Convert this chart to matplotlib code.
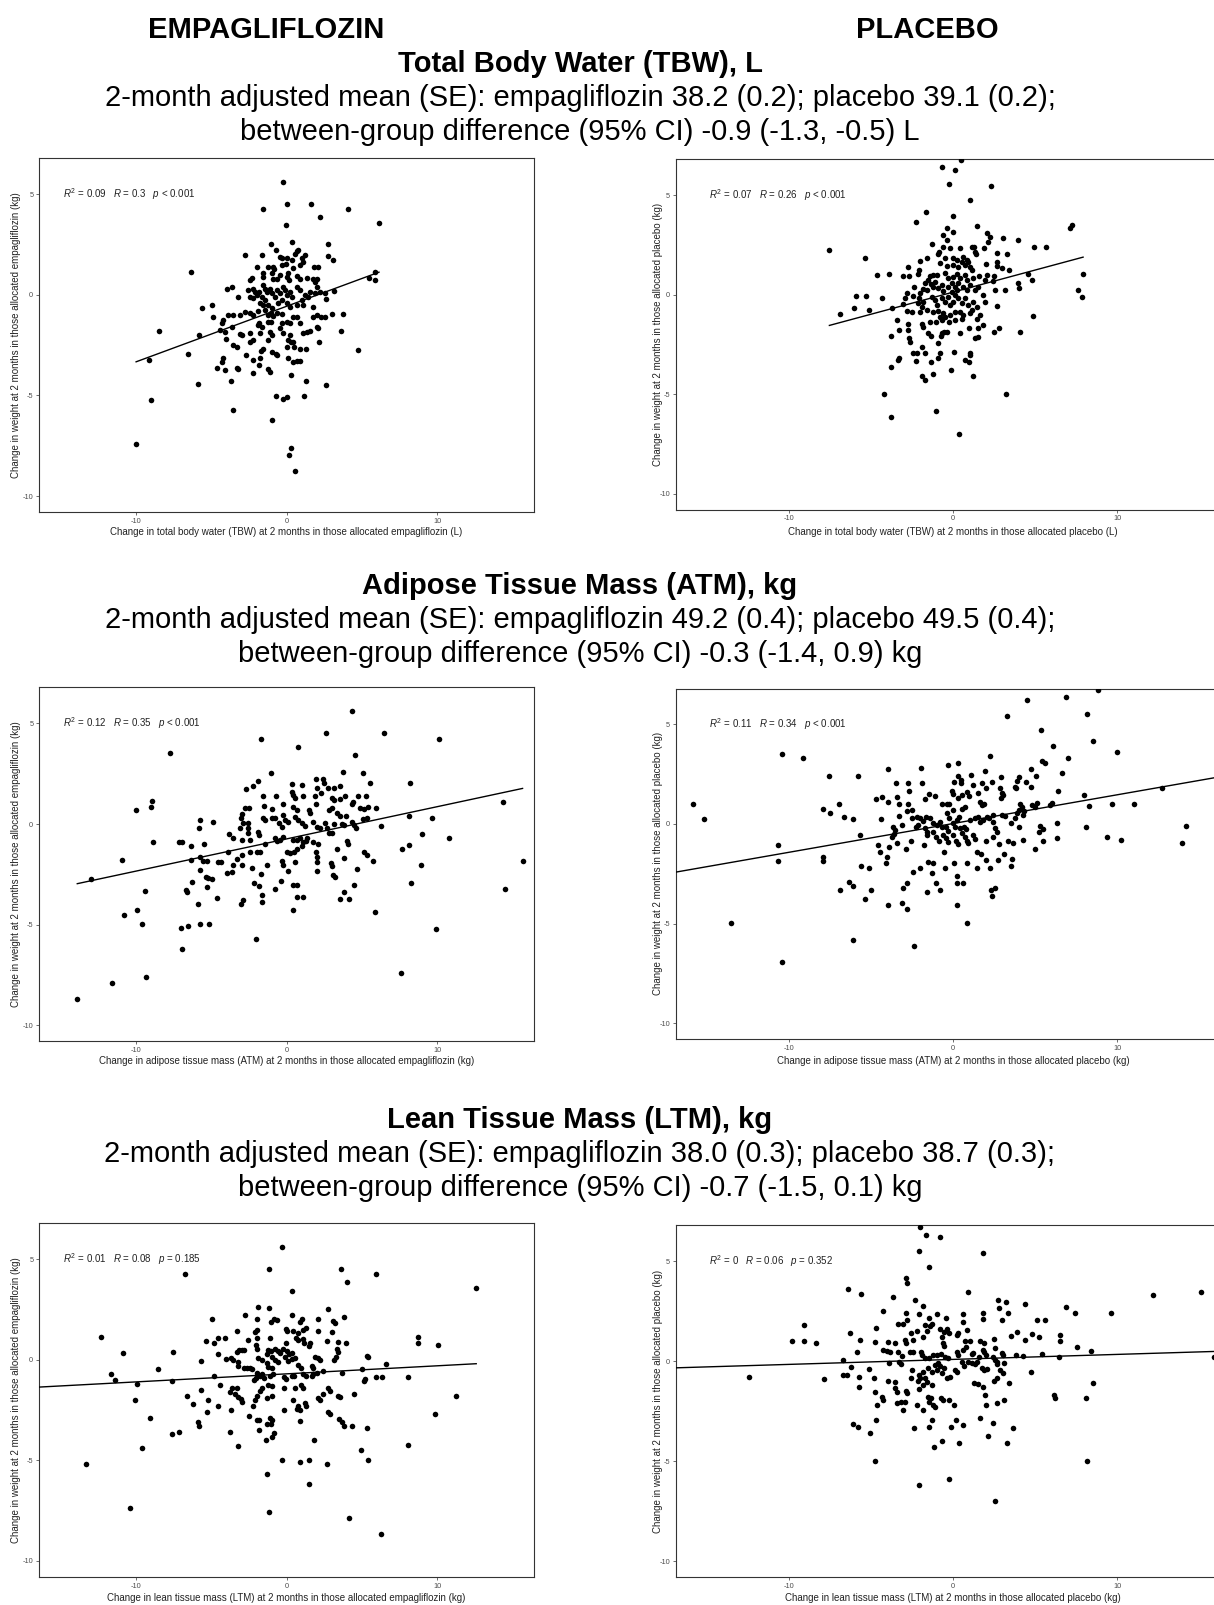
import numpy as np
import matplotlib.pyplot as plt

plt.rcParams['font.family'] = ['Liberation Sans', 'DejaVu Sans']
plt.rcParams['axes.unicode_minus'] = False
plt.rcParams['mathtext.fontset'] = 'custom'
plt.rcParams['mathtext.rm'] = 'Liberation Sans'
plt.rcParams['mathtext.it'] = 'Liberation Sans:italic'

W, H = 1214, 1605

# change in body compartment (x) vs change in weight (y)
tbw_empa = [
    (-0.23, 5.63), (0, 4.53), (-1.55, 4.25), (1.59, 4.53), (4.05, 4.25), (2.23, 3.85), (-0.05, 3.45),
    (6.14, 3.55), (-6.36, 1.13), (-8.48, -1.82), (-9.16, -3.22), (-10.0, -7.43), (-9.0, -5.22),
    (-6.52, -2.92), (-5.86, -4.42), (-5.82, -2.02), (-3.55, -5.72), (5.45, 0.83), (5.86, 1.12),
    (5.9, 0.72), (4.77, -2.72), (2.64, -4.5), (-0.95, -6.22), (-0.68, -5.03), (-0.27, -5.17),
    (0, -5.08), (1.14, -5.03), (0.3, -7.63), (0.18, -7.97), (0.57, -8.78),
    (-1.04, 2.52), (0.33, 2.63), (2.72, 2.52), (-0.71, 2.22), (-2.77, 2.0), (-1.66, 2.0), (0.66, 2.17),
    (0.77, 2.22), (0.55, 2.05), (-0.44, 1.89), (-0.33, 1.81), (0.04, 1.81), (0.33, 1.72), (1.22, 2.0),
    (1.0, 1.81), (2.77, 1.92), (3.06, 1.72), (-1.95, 1.39), (-1.22, 1.39), (-0.93, 1.39), (-0.84, 1.28),
    (-0.33, 1.47), (-0.04, 1.51), (0.4, 1.31), (0.89, 1.47), (1.06, 1.61), (1.84, 1.39), (2.1, 1.39),
    (-2.44, 0.76), (-2.33, 0.84), (-1.55, 1.06), (-1.6, 0.89), (-1.0, 1.06), (-0.89, 0.81), (-0.44, 0.98),
    (-0.62, 0.81), (0.11, 1.06), (0, 0.89), (0.18, 0.73), (0.66, 0.94), (0.89, 0.81), (1.33, 0.84),
    (1.77, 0.81), (1.99, 0.81), (1.88, 0.65), (1.99, 0.4), (-3.99, 0.31), (-3.61, 0.4), (-3.21, -0.1),
    (-2.59, 0.23), (-2.21, 0.31), (-2.1, 0.15), (-2.44, -0.1), (-2.21, -0.18), (-1.99, -0.02),
    (-1.82, 0.15), (-1.6, 0.51), (-1.44, 0.31), (-1.33, 0.15), (-1.11, 0.31), (-1.66, -0.1),
    (-1.44, -0.27), (-1.77, -0.43), (-1.6, -0.51), (-1.0, 0.07), (-0.78, -0.1), (-0.66, 0.23),
    (-0.44, 0.07), (-0.22, 0.4), (-0.11, 0.23), (0.04, -0.02), (0.22, 0.15), (0.33, -0.1), (-0.33, -0.27),
    (-0.55, -0.43), (-1.22, -0.51), (-1.0, -0.68), (0, -0.43), (0.22, -0.6), (0.66, 0.4), (0.89, 0.23),
    (1.22, -0.02), (1.44, -0.1), (1.55, 0.15), (1.0, -0.27), (0.66, -0.51), (1.11, -0.51), (1.88, 0.07),
    (2.21, 0.15), (2.55, 0.07), (2.61, -0.22), (3.17, 0.2), (-5.65, -0.68), (-4.98, -0.51), (-4.92, -1.11),
    (-3.88, -1.01), (-3.54, -1.01), (-4.32, -1.42), (-4.21, -1.26), (-4.43, -1.76), (-4.1, -1.84),
    (-3.65, -1.59), (-3.1, -1.01), (-2.77, -0.85), (-2.44, -0.88), (-2.21, -0.98), (-1.88, -0.81),
    (-1.44, -0.76), (-1.22, -0.98), (-1.06, -0.88), (-0.89, -1.04), (-0.62, -0.88), (-0.33, -0.93),
    (-1.82, -1.42), (-1.66, -1.59), (-1.88, -1.51), (-1.22, -1.34), (-1.04, -1.37), (-0.33, -1.42),
    (0.04, -1.37), (0.22, -1.42), (0.44, -1.09), (0.66, -1.09), (0.89, -1.42), (1.77, -1.09), (2.26, -1.09),
    (1.77, -0.6), (1.99, -1.01), (2.55, -1.09), (2.99, -0.93), (3.77, -0.93), (-3.1, -1.97), (-2.99, -2.0),
    (-2.44, -1.92), (-1.77, -1.89), (-1.11, -1.84), (-1.0, -2.0), (-0.44, -1.67), (-0.22, -1.92),
    (0.22, -2.0), (0.44, -2.34), (0.27, -2.34), (1.11, -1.92), (1.33, -1.87), (1.55, -1.81), (1.99, -1.59),
    (2.1, -1.67), (3.61, -1.81), (-4.03, -2.22), (-3.54, -2.5), (-3.32, -2.58), (-2.44, -2.34),
    (-2.21, -2.25), (-1.71, -2.78), (-1.55, -2.67), (-1.22, -2.25), (-1.0, -2.83), (-0.71, -2.92),
    (-0.62, -3.0), (0, -2.58), (0.11, -2.25), (0.51, -2.58), (0.89, -2.67), (1.28, -2.67), (2.17, -2.34),
    (-2.7, -3.0), (-4.25, -3.16), (-4.32, -3.33), (-4.61, -3.63), (-4.1, -3.74), (-3.28, -3.63),
    (-3.21, -3.71), (-2.21, -3.25), (-1.77, -3.16), (-1.82, -3.5), (-1.22, -3.69), (-1.11, -3.83),
    (-2.26, -3.88), (0.11, -3.13), (0.44, -3.36), (0.66, -3.3), (0.89, -3.3), (0.29, -3.99), (1.28, -4.29),
    (-3.68, -4.29),
]

tbw_plac = [
    (-0.65, 6.39), (0.46, 6.74), (0.14, 6.27), (-0.23, 5.57), (2.31, 5.47), (1.04, 4.77), (-1.62, 4.16),
    (-2.25, 3.66), (0, 3.96), (7.13, 3.34), (7.25, 3.51), (-7.52, 2.26), (-5.37, 1.84), (-6.88, -0.95),
    (-6.02, -0.67), (-5.9, -0.08), (-5.32, -0.08), (-5.09, -0.79), (4.93, 2.42), (5.67, 2.42), (4.81, 0.75),
    (4.86, -1.05), (7.92, 1.04), (7.59, 0.25), (7.87, -0.13), (-4.21, -4.98), (-3.75, -6.15),
    (-1.06, -5.85), (0.37, -6.97), (3.24, -4.98), (4.54, 1.05),
    (-0.39, 3.37), (0.02, 3.17), (1.44, 3.45), (2.05, 3.09), (2.25, 2.92), (-0.63, 3.0), (-0.39, 2.75),
    (-1.3, 2.53), (-0.63, 2.42), (-0.18, 2.33), (0.43, 2.33), (1.14, 2.42), (1.28, 2.42), (1.89, 2.37),
    (2.15, 2.67), (3.06, 2.83), (3.94, 2.75), (-0.83, 2.13), (-0.89, 2.03), (1.34, 2.17), (1.4, 2.03),
    (2.66, 2.08), (3.31, 2.05), (-1.6, 1.83), (-2.01, 1.7), (-0.02, 1.86), (-0.49, 1.83), (0.22, 1.75),
    (0.63, 1.92), (0.83, 1.75), (0.93, 1.63), (0.73, 1.5), (-0.79, 1.58), (-0.39, 1.46), (-0.02, 1.5),
    (0.32, 1.41), (0.53, 1.63), (1.03, 1.41), (1.14, 1.25), (2.01, 1.53), (2.66, 1.63), (2.7, 1.45),
    (2.96, 1.36), (3.43, 1.25), (-2.72, 1.41), (-2.05, 1.25), (-2.11, 1.03), (-2.68, 0.96), (-3.02, 0.96),
    (-4.65, 0.99), (-3.9, 1.03), (-1.4, 0.96), (-1.2, 0.99), (-0.99, 0.99), (-1.5, 0.74), (-1.7, 0.58),
    (-1.36, 0.53), (-1.1, 0.66), (-0.49, 1.08), (-0.28, 0.83), (-0.02, 0.91), (0.22, 1.03), (0.43, 0.83),
    (0.73, 0.99), (0.87, 0.74), (1.24, 0.83), (1.6, 0.96), (1.95, 0.74), (2.05, 0.99), (2.5, 0.94),
    (2.41, 0.69), (3.16, 0.24), (2.56, 0.24), (3.98, 0.58), (4.04, 0.32), (-2.37, 0.41), (-1.81, 0.29),
    (-1.6, 0.24), (-2.01, 0.07), (-1.2, 0.41), (-0.89, 0.32), (-0.69, 0.49), (-0.59, 0.19), (-0.28, 0.41),
    (-0.08, 0.58), (0.12, 0.41), (0.32, 0.58), (-0.08, 0.16), (0.12, -0.01), (0.26, 0.24), (0.63, 0.41),
    (0.83, 0.24), (1.03, 0.49), (1.34, 0.24), (1.54, 0.41), (1.85, -0.01), (1.95, -0.35), (-2.82, 0.07),
    (-2.92, -0.14), (-2.45, -0.04), (-4.34, -0.14), (-2.05, -0.18), (-1.81, -0.35), (-2.11, -0.43),
    (-1.91, -0.6), (-1.3, -0.09), (-1.1, -0.26), (-0.99, -0.51), (-0.69, -0.18), (-0.49, -0.35),
    (-0.28, -0.09), (-0.18, -0.51), (0.02, -0.35), (0.32, -0.18), (0.53, -0.43), (0.73, -0.18),
    (0.93, -0.51), (1.24, -0.35), (1.44, -0.6), (1.14, -0.76), (-3.73, -0.65), (-3.06, -0.48),
    (-2.82, -0.82), (-2.52, -0.88), (-2.01, -0.88), (-1.6, -0.76), (-1.2, -0.88), (-0.89, -0.82),
    (-0.59, -0.93), (-0.49, -1.1), (-0.18, -1.01), (0.12, -0.88), (0.43, -0.88), (0.63, -1.01),
    (1.03, -0.93), (1.64, -1.01), (1.44, -1.22), (2.66, -0.55), (-3.43, -1.27), (-2.72, -1.48),
    (-3.27, -1.77), (-1.91, -1.48), (-1.81, -1.6), (-1.4, -1.35), (-1.03, -1.35), (-0.79, -1.1),
    (-0.69, -1.27), (-0.24, -1.35), (0.12, -1.27), (0.53, -1.24), (0.99, -1.68), (0.43, -1.94),
    (1.54, -1.68), (1.85, -1.52), (2.5, -1.85), (2.82, -1.68), (4.08, -1.85), (-3.79, -2.05),
    (-2.72, -1.77), (-2.66, -2.19), (-2.62, -2.36), (-1.5, -1.94), (-1.36, -2.07), (-0.69, -1.94),
    (-0.55, -1.85), (-0.39, -1.85), (-0.73, -2.07), (-1.91, -2.61), (-0.89, -2.44), (1.34, -2.19),
    (1.54, -2.1), (-2.45, -2.94), (-2.21, -2.94), (-1.7, -2.94), (-0.79, -2.94), (0.08, -2.89),
    (1.03, -2.94), (-3.27, -3.19), (-3.33, -3.28), (-2.25, -3.31), (-0.89, -3.19), (-1.34, -3.36),
    (0.73, -3.28), (0.99, -3.36), (1.03, -3.02), (-3.79, -3.61), (-1.2, -3.98), (-1.91, -4.08),
    (-1.7, -4.28), (-0.14, -3.78), (1.2, -4.06),
]

atm_empa = [
    (4.37, 5.62), (2.64, 4.51), (6.48, 4.51), (-1.72, 4.23), (10.11, 4.23), (0.76, 3.85), (-7.75, 3.52),
    (4.55, 3.44), (8.23, 2.03), (-8.92, 1.12), (-9.01, 0.83), (-10.0, 0.71), (-8.85, -0.89),
    (-10.92, -1.8), (-12.99, -2.71), (-13.91, -8.71), (-11.61, -7.88), (-9.36, -7.6), (-10.8, -4.5),
    (-9.95, -4.28), (-9.43, -3.31), (-9.59, -4.99), (-7.01, -5.19), (-6.55, -5.07), (-6.94, -6.2),
    (-5.75, -4.99), (-5.17, -4.99), (-5.86, -4.0), (-7.13, -0.89), (-6.94, -0.89), (-6.37, -1.11),
    (-6.32, -1.77), (-6.67, -3.26), (-6.6, -3.39), (-6.28, -2.89), (-5.79, -0.2), (-5.75, -2.3),
    (-2.02, -5.7), (7.59, -7.39), (9.93, -5.21), (14.53, -3.22), (15.68, -1.82), (14.41, 1.09),
    (9.66, 0.3), (10.8, -0.69), (9.01, -0.5), (8.92, -2.02), (8.28, -2.93), (8.16, 0.41), (8.11, -1.02),
    (7.66, -1.22),
    (-1.06, 2.52), (3.77, 2.6), (5.1, 2.52), (-1.88, 2.14), (-2.21, 1.91), (-2.7, 1.72), (0.33, 1.99),
    (1.0, 1.94), (1.95, 2.22), (2.44, 2.22), (2.48, 2.02), (1.99, 1.81), (2.77, 1.81), (3.17, 1.81),
    (3.54, 1.91), (5.54, 2.02), (0.33, 1.61), (0.44, 1.44), (0.55, 1.28), (-1.55, 1.41), (-0.71, 1.41),
    (1.06, 1.41), (1.88, 1.41), (2.26, 1.52), (2.99, 1.28), (3.14, 1.19), (3.88, 1.41), (3.54, 1.25),
    (4.76, 1.41), (5.27, 1.41), (4.43, 1.08), (4.32, 0.98), (-2.77, 0.81), (-2.48, 0.81), (-1.51, 0.91),
    (-1.0, 0.75), (-0.22, 0.98), (0.4, 0.86), (0.66, 0.7), (1.95, 0.98), (1.51, 0.7), (2.84, 0.7),
    (2.99, 0.78), (3.32, 0.53), (3.54, 0.41), (3.94, 0.41), (4.85, 0.78), (5.12, 0.75), (5.39, 0.86),
    (5.94, 0.81), (-2.99, 0.48), (-3.06, 0.31), (-2.88, 0.03), (-2.55, 0.03), (-1.55, 0.31), (-1.44, 0.2),
    (-1.0, 0.31), (-0.77, 0.28), (-0.49, 0.03), (-0.33, -0.13), (-0.11, 0.2), (0.11, 0.12), (-0.22, 0.45),
    (0.55, 0.36), (0.78, 0.2), (1.0, 0.03), (1.22, -0.08), (1.55, 0.53), (1.77, 0.12), (1.99, -0.13),
    (2.21, -0.22), (2.55, 0.03), (2.66, -0.18), (3.14, -0.02), (3.65, -0.02), (3.81, -0.05), (4.32, 0.12),
    (4.47, -0.05), (4.61, -0.18), (5.1, 0.25), (5.32, 0.31), (6.25, -0.1), (-5.75, 0.2), (-4.91, 0.08),
    (-3.81, -0.51), (-3.59, -0.71), (-3.1, -0.18), (-2.55, -0.18), (-2.59, -0.46), (-1.82, -0.55),
    (-1.88, -0.41), (-2.99, -0.8), (-2.44, -0.8), (-1.44, -1.01), (-0.77, -0.71), (-0.62, -0.84),
    (-0.44, -0.8), (-0.22, -0.63), (0.4, -0.8), (0.66, -0.8), (0.89, -0.71), (1.11, -0.91), (1.28, -0.84),
    (1.33, -0.68), (1.77, -0.91), (2.1, -1.01), (2.84, -0.46), (2.99, -0.43), (4.03, -0.84), (4.1, -1.01),
    (3.37, -1.24), (-5.49, -1.01), (-5.75, -1.62), (-5.53, -1.84), (-5.27, -1.84), (-4.53, -1.91),
    (-4.38, -1.91), (-3.87, -1.41), (-3.32, -1.74), (-2.99, -1.54), (-2.44, -1.38), (-1.95, -1.41),
    (-1.77, -1.41), (0, -1.38), (0.22, -1.46), (0.49, -1.41), (0.71, -1.24), (1.0, -1.08), (1.95, -1.38),
    (1.99, -1.62), (2.04, -1.91), (2.92, -1.96), (2.99, -2.07), (3.81, -1.71), (5.14, -1.41),
    (5.32, -1.54), (5.72, -1.84), (-3.54, -2.04), (-2.99, -2.04), (-1.33, -2.04), (-0.33, -1.84),
    (-0.22, -2.04), (0.11, -2.34), (0.55, -1.91), (-5.36, -2.62), (-5.2, -2.7), (-4.98, -2.73),
    (-5.31, -3.15), (-3.99, -2.45), (-3.65, -2.4), (-2.33, -2.2), (-1.73, -2.5), (2.04, -2.34),
    (3.1, -2.53), (3.21, -2.62), (4.7, -2.24), (-2.15, -2.92), (-1.82, -3.08), (-0.37, -2.83),
    (0.4, -3.03), (0.66, -3.03), (4.47, -3.03), (-0.77, -3.23), (-4.64, -3.66), (-2.88, -3.78),
    (-1.66, -3.53), (-1.66, -3.89), (0.66, -3.61), (1.11, -3.64), (3.54, -3.73), (3.81, -3.36),
    (4.17, -3.73), (-3.03, -3.98), (0.44, -4.27), (5.87, -4.39),
]

atm_plac = [
    (4.52, 6.23), (6.91, 6.35), (8.85, 6.71), (3.31, 5.43), (8.18, 5.53), (5.33, 4.72), (6.09, 3.92),
    (8.51, 4.14), (9.97, 3.62), (-10.38, 3.52), (-9.15, 3.32), (-15.8, 1.0), (-15.18, 0.25),
    (-10.66, -1.08), (-10.66, -1.84), (-13.49, -4.95), (-10.38, -6.94), (-6.07, -5.83), (-2.36, -6.11),
    (0.86, -4.95), (-7.93, -1.66), (-7.88, -1.88), (-7.93, 0.75), (-7.53, 2.41), (-7.46, 0.53),
    (-6.95, 1.0), (8.0, 1.45), (8.07, -0.13), (8.27, 0.91), (9.69, 1.0), (9.39, -0.66), (10.24, -0.8),
    (11.01, 1.0), (12.75, 1.83), (14.21, -0.08), (13.97, -0.96), (-6.88, -3.34),
    (2.25, 3.41), (6.98, 3.33), (5.4, 3.16), (5.6, 3.05), (0.32, 3.08), (-3.94, 2.76), (-1.95, 2.83),
    (-0.32, 2.96), (1.95, 2.66), (-5.76, 2.43), (0.32, 2.43), (0.47, 2.21), (1.08, 2.46), (2.9, 2.34),
    (4.04, 2.34), (3.87, 2.16), (4.75, 2.76), (5.03, 2.43), (6.61, 2.54), (-3.47, 2.07), (-2.72, 2.07),
    (-1.91, 2.04), (0.06, 2.13), (0.49, 2.04), (1.2, 1.96), (1.74, 2.04), (1.99, 1.79), (2.35, 2.13),
    (2.86, 1.82), (2.96, 1.54), (3.06, 1.46), (3.79, 1.87), (3.85, 1.79), (4.44, 2.13), (4.75, 1.84),
    (6.41, 1.66), (-4.69, 1.26), (-4.34, 1.37), (-3.98, 1.12), (-3.39, 1.34), (-3.27, 0.99), (-2.66, 1.66),
    (-2.72, 1.0), (-2.52, 0.7), (-2.82, 0.65), (-1.7, 1.24), (-1.44, 1.49), (-1.1, 1.42), (-0.69, 0.99),
    (-0.39, 1.0), (-0.22, 0.99), (-0.08, 1.66), (0.02, 1.49), (0.32, 1.29), (0.53, 1.46), (0.87, 1.62),
    (0.99, 1.42), (1.54, 1.54), (1.64, 1.12), (1.74, 0.95), (1.89, 0.99), (0.53, 0.75), (0.73, 0.87),
    (0.02, 0.7), (2.9, 1.29), (4.08, 0.99), (4.18, 0.87), (4.04, 0.7), (4.79, 0.95), (4.99, 0.87),
    (5.09, 1.04), (5.9, 0.95), (6.01, 1.04), (-6.63, 0.33), (-6.11, 0.25), (-4.4, 0.25), (-3.63, -0.13),
    (-3.53, -0.3), (-3.27, 0.42), (-3.12, -0.05), (-2.52, 0.28), (-2.17, 0.37), (-2.01, 0.28),
    (-1.64, 0.37), (-1.81, 0.15), (-1.4, 0.32), (-2.11, -0.05), (-2.25, -0.13), (-1.7, -0.22),
    (-1.56, -0.42), (-1.2, 0.03), (-0.99, -0.05), (-0.79, 0.12), (-0.69, -0.13), (-0.39, 0.54),
    (-0.22, 0.32), (-0.43, -0.13), (-0.28, -0.35), (-0.02, 0.03), (0.22, 0.2), (0.39, 0.37), (0.12, -0.13),
    (0.43, -0.22), (0.67, -0.13), (0.79, -0.25), (1.03, 0.2), (1.34, 0.28), (1.54, 0.37), (1.64, 0.12),
    (1.85, 0.2), (2.05, 0.37), (2.21, 0.32), (2.41, 0.45), (2.41, 0.12), (2.56, -0.22), (2.96, 0.45),
    (3.16, 0.42), (3.51, 0.03), (3.77, 0.28), (3.87, 0.54), (4.04, -0.13), (4.28, 0.45), (4.32, 0.65),
    (5.3, -0.08), (5.5, -0.25), (5.25, -0.38), (6.31, 0.03), (-5.66, -0.55), (-4.54, -1.05),
    (-4.44, -1.39), (-4.04, -1.64), (-4.08, -1.97), (-3.87, -1.14), (-3.43, -0.97), (-3.73, -0.64),
    (-3.59, -0.52), (-2.86, -1.27), (-2.58, -0.85), (-1.75, -1.05), (-1.24, -0.42), (-1.56, -0.55),
    (-1.03, -0.64), (-0.83, -0.85), (-0.59, -0.55), (-0.43, -0.72), (-0.28, -0.92), (0.02, -0.55),
    (0.18, -0.85), (0.32, -1.02), (0.53, -0.47), (0.73, -0.64), (0.83, -0.85), (0.93, -0.97),
    (1.2, -0.55), (1.34, -0.75), (1.44, -1.42), (1.68, -1.52), (2.01, -0.85), (2.45, -0.64),
    (2.66, -0.42), (2.82, -1.02), (3.12, -1.51), (3.37, -0.85), (3.63, -0.97), (4.28, -0.8),
    (4.99, -1.27), (5.46, -0.85), (6.35, -0.69), (-0.53, -1.39), (2.72, -1.81), (3.57, -1.77),
    (3.53, -2.09), (-5.62, -2.09), (-5.09, -2.19), (-1.5, -1.89), (-1.24, -1.97), (-0.49, -2.19),
    (0.06, -1.97), (0.83, -1.97), (1.48, -2.19), (2.01, -1.81), (2.25, -2.19), (-2.45, -2.39),
    (-2.01, -2.19), (-1.3, -2.48), (0.22, -2.59), (-6.31, -2.89), (-6.07, -3.1), (-2.78, -2.98),
    (-1.03, -2.98), (-0.79, -3.31), (0.26, -2.98), (0.59, -2.98), (-3.02, -3.2), (-5.01, -3.31),
    (-1.6, -3.4), (2.29, -3.31), (2.56, -3.2), (2.35, -3.6), (-5.36, -3.78), (-3.12, -3.98),
    (-3.94, -4.07), (-2.78, -4.28), (0.22, -4.07),
]

ltm_empa = [
    (-0.32, 5.62), (-6.78, 4.25), (-1.15, 4.51), (3.63, 4.51), (5.93, 4.25), (4.02, 3.85), (12.6, 3.55),
    (-12.34, 1.12), (-10.85, 0.33), (-11.7, -0.69), (-11.43, -0.99), (-9.93, -1.19), (-10.05, -1.98),
    (-8.55, -0.46), (-7.56, 0.41), (-7.63, -1.07), (-9.06, -2.89), (-9.63, -4.38), (-7.59, -3.69),
    (-7.13, -3.6), (-13.33, -5.17), (-10.39, -7.39), (-1.15, -7.57), (-1.31, -5.67), (-0.32, -4.99),
    (0.87, -5.07), (1.49, -4.99), (1.49, -6.2), (2.67, -5.17), (4.14, -7.88), (6.28, -8.68), (4.94, -4.5),
    (5.43, -4.99), (8.07, -4.26), (9.84, -2.69), (11.29, -1.79), (10.07, 0.71), (8.76, 1.12), (8.76, 0.83),
    (8.07, -0.88), (6.62, -0.2), (5.93, -0.88), (6.32, -0.88), (5.36, 0.2), (5.38, 0.12), (5.13, -1.04),
    (5.24, -0.96), (5.01, -0.46), (5.31, -3.39),
    (0.38, 3.41), (-1.88, 2.63), (-1.15, 2.58), (-2.77, 2.25), (0.33, 2.25), (2.72, 2.52), (-4.94, 2.02),
    (-1.99, 2.02), (-1.04, 1.89), (-0.82, 2.02), (-0.66, 1.97), (0.89, 1.89), (1.04, 2.02), (2.06, 2.02),
    (3.1, 1.92), (3.21, 1.81), (3.83, 2.14), (-3.32, 1.42), (-2.1, 1.39), (-1.99, 1.47), (-0.07, 1.52),
    (0, 1.42), (0.44, 1.42), (0.78, 1.31), (1.11, 1.47), (1.26, 1.59), (2.06, 1.42), (2.99, 1.36),
    (-5.38, 0.93), (-4.81, 0.81), (-4.59, 1.09), (-4.1, 1.09), (-2.55, 0.98), (-1.99, 1.09), (-1.11, 1.09),
    (0.6, 1.06), (0.78, 0.98), (1.11, 1.03), (1.17, 0.81), (-0.07, 0.81), (1.48, 0.7), (1.55, 0.81),
    (2.66, 0.93), (3.43, 0.86), (3.92, 0.81), (-3.32, 0.4), (-3.17, 0.48), (-2.99, 0.48), (-2.81, 0.51),
    (-2.06, 0.73), (-1.99, 0.53), (-1.26, 0.48), (-1.33, 0.31), (-1.04, 0.43), (-0.78, 0.56), (-0.6, 0.43),
    (-0.44, 0.36), (-0.22, 0.53), (0, 0.43), (0.16, 0.31), (0.33, 0.36), (0.55, 0.07), (1.88, 0.15),
    (2.06, 0.07), (2.21, -0.02), (3.32, 0.53), (3.39, 0.4), (3.26, 0.15), (3.17, -0.02), (-5.69, -0.07),
    (-4.59, 0.31), (-4.05, 0.03), (-3.7, 0.1), (-3.54, -0.02), (-3.26, -0.1), (-3.21, -0.3), (-2.81, -0.4),
    (-2.66, -0.43), (-2.44, -0.4), (-2.33, -0.46), (-1.88, 0.07), (-1.62, -0.02), (-1.33, -0.18),
    (-1.0, 0.15), (-0.78, -0.02), (-0.55, -0.13), (-1.26, -0.35), (-0.95, -0.43), (-0.11, 0.15),
    (0.11, -0.07), (0.38, 0.03), (0.78, -0.27), (0.95, -0.4), (1.66, -0.3), (1.77, -0.4), (2.44, -0.56),
    (3.7, -0.68), (-4.81, -0.8), (-4.43, -1.23), (-1.99, -0.68), (-1.77, -0.8), (-1.62, -0.73),
    (-1.48, -0.93), (-2.15, -1.01), (-2.06, -0.93), (-1.11, -0.8), (-0.89, -0.73), (-0.16, -0.85),
    (-0.07, -0.96), (0.33, -0.8), (0.51, -0.8), (1.11, -0.73), (1.26, -0.8), (1.66, -0.8), (1.77, -0.73),
    (1.99, -0.68), (-1.22, -1.26), (-0.95, -1.29), (-1.66, -1.42), (-1.77, -1.56), (-0.16, -1.39),
    (0.55, -1.39), (0.95, -1.26), (1.11, -1.39), (2.77, -1.42), (2.88, -1.56), (-3.61, -1.39),
    (-3.32, -1.39), (-3.76, -1.62), (-3.43, -1.72), (-5.69, -1.51), (-6.64, -1.79), (-6.22, -2.22),
    (-5.2, -2.0), (-4.59, -2.29), (-3.21, -1.84), (-3.03, -1.97), (-2.94, -2.09), (-2.1, -2.0),
    (-1.99, -1.79), (-1.33, -1.89), (-0.95, -1.79), (-0.16, -2.5), (0.44, -2.0), (0.78, -2.29),
    (0.71, -2.45), (0.89, -2.5), (1.22, -2.17), (1.26, -2.29), (2.1, -1.92), (2.21, -2.0), (2.44, -1.72),
    (3.39, -1.79), (3.54, -1.84), (4.5, -1.72), (-5.31, -2.62), (-3.7, -2.5), (-2.21, -2.29),
    (2.72, -2.62), (2.88, -2.72), (3.48, -2.92), (3.7, -3.11), (3.83, -3.28), (4.32, -3.28), (-2.5, -2.78),
    (-1.99, -3.0), (-1.84, -3.0), (-1.11, -2.88), (-0.95, -3.0), (-1.33, -3.21), (-1.04, -3.21),
    (-5.91, -3.11), (-5.82, -3.28), (-3.76, -3.61), (-1.84, -3.5), (-0.82, -3.66), (-0.95, -3.83),
    (-1.4, -3.99), (0.89, -3.05), (1.84, -3.99), (-3.21, -4.27),
]

ltm_plac = [
    (-2.02, 6.7), (-1.67, 6.33), (-0.77, 6.23), (-2.09, 5.53), (1.81, 5.42), (-1.44, 4.7), (-2.85, 4.17),
    (-2.78, 3.9), (-6.38, 3.62), (12.18, 3.32), (15.08, 3.48), (9.63, 2.4), (6.91, 2.73), (7.42, 2.4),
    (7.54, 0.7), (8.4, 0.53), (15.89, 0.23), (8.54, -1.1), (6.15, -1.67), (6.22, -1.85), (8.07, -1.85),
    (8.17, -5.0), (6.5, 1.33), (6.5, 1.0), (6.45, 0.23), (-12.41, -0.8), (-9.81, 1.0), (-9.05, 1.0),
    (-9.05, 1.82), (-8.31, 0.92), (-7.82, -0.88), (-4.76, -5.0), (-2.09, -6.18), (-0.23, -5.88),
    (2.55, -7.0),
    (-5.6, 3.37), (-3.67, 3.2), (-2.31, 3.07), (-1.81, 2.77), (0.93, 3.48), (2.76, 3.07), (3.23, 2.95),
    (4.38, 2.85), (2.82, 2.65), (3.37, 2.43), (-4.28, 2.53), (-2.86, 2.43), (-2.82, 2.07), (-3.33, 1.85),
    (-3.02, 1.85), (-2.07, 2.35), (-1.44, 2.15), (-1.3, 1.87), (-1.4, 1.77), (-0.99, 2.35), (-0.43, 2.15),
    (0.59, 2.35), (0.63, 1.95), (0.83, 1.57), (1.81, 2.43), (1.81, 2.12), (2.96, 2.07), (5.09, 2.07),
    (5.6, 2.07), (-4.71, 1.65), (-6.27, 1.43), (-2.56, 1.43), (-2.41, 1.07), (-2.21, 1.53), (-1.7, 1.82),
    (-1.56, 1.53), (-0.79, 1.6), (-0.55, 1.48), (-0.34, 1.6), (-0.22, 1.43), (-1.85, 1.23), (-0.69, 1.23),
    (-0.63, 0.93), (-0.55, 0.77), (0.26, 1.32), (0.32, 1.4), (0.73, 1.03), (1.03, 1.02), (1.64, 1.03),
    (1.89, 0.9), (2.5, 1.1), (2.56, 0.65), (3.53, 1.27), (3.87, 1.48), (4.38, 1.07), (4.79, 1.37),
    (5.25, 1.23), (-5.66, 1.07), (-4.75, 0.98), (-3.94, 0.98), (-3.53, 0.93), (-4.28, 0.57), (-4.04, 0.52),
    (-3.83, 0.48), (-2.92, 1.07), (-2.86, 0.9), (-2.62, 0.48), (-2.41, 0.48), (-3.33, 0.48), (-3.12, 0.27),
    (-1.95, 0.48), (-1.91, 0.32), (-1.7, 0.15), (-1.44, 0.15), (-1.24, 0.32), (-0.99, 0.32), (-0.75, 0.37),
    (-0.49, 0.23), (-0.28, 0.15), (0.22, 0.48), (0.32, 0.32), (0.79, 0.73), (0.63, 0.57), (1.14, 0.37),
    (1.24, 0.43), (1.6, 0.23), (1.81, 0.57), (1.89, 0.48), (2.01, 0.32), (2.41, 0.23), (2.56, 0.07),
    (2.7, -0.02), (2.96, 0.43), (3.02, 0.32), (3.83, 0.32), (4.28, 0.27), (5.4, 0.35), (-6.72, 0.07),
    (-5.86, 0.45), (-6.23, -0.27), (-6.72, -0.68), (-6.43, -0.68), (-5.09, -0.38), (-5.72, -0.8),
    (-5.7, -1.27), (-4.79, -0.85), (-3.87, -0.07), (-3.98, -0.97), (-3.53, -1.02), (-3.27, -0.02),
    (-3.19, -0.13), (-2.52, -0.43), (-2.58, -0.85), (-2.05, -0.68), (-2.01, -0.85), (-2.11, -0.97),
    (-1.85, -0.52), (-1.7, -0.85), (-1.56, -1.02), (-1.5, -0.35), (-1.3, -0.52), (-1.1, -0.18),
    (-0.99, -0.43), (-0.89, -0.07), (-0.79, -0.23), (-0.69, -0.6), (-0.55, -0.35), (-0.39, -0.85),
    (-0.18, -0.77), (0.12, -0.43), (0.22, -0.52), (0.53, -0.02), (0.67, -0.23), (0.93, -0.02),
    (1.14, -0.1), (1.34, -0.13), (1.48, -0.02), (1.74, -0.35), (1.89, -0.43), (2.05, -0.4), (2.66, -0.13),
    (2.86, -0.43), (3.02, -0.57), (3.12, -0.07), (2.66, -0.85), (2.5, -0.97), (1.28, -1.07), (3.43, -1.07),
    (4.75, -0.55), (-4.75, -1.52), (-4.34, -1.8), (-4.24, -1.93), (-3.53, -1.35), (-3.39, -1.52),
    (-3.16, -2.02), (-2.86, -1.48), (-2.78, -1.6), (-2.07, -1.4), (-1.85, -1.18), (-1.3, -1.18),
    (-1.5, -1.77), (-1.36, -1.85), (-1.44, -2.02), (-1.2, -2.18), (-1.1, -2.3), (-0.75, -1.85),
    (-0.63, -1.93), (-0.22, -1.93), (0.06, -2.18), (1.54, -1.13), (1.85, -1.27), (1.95, -1.68),
    (2.01, -2.18), (2.66, -2.1), (3.12, -1.93), (-4.65, -2.18), (-3.39, -2.07), (-2.92, -2.02),
    (-3.06, -2.43), (-4.69, -2.93), (-2.21, -2.18), (-1.81, -2.43), (-1.3, -2.93), (0.18, -2.93),
    (0.63, -3.18), (1.64, -2.85), (2.45, -3.07), (-6.11, -3.15), (-5.76, -3.27), (-5.05, -3.57),
    (-2.37, -3.35), (-1.44, -3.27), (-0.14, -3.27), (3.63, -3.35), (2.15, -3.73), (3.27, -4.07),
    (-0.69, -3.98), (0.39, -4.07), (-1.16, -4.27),
]

# fitted lines: intercept, slope, x range of the fit
fit_intercept = [-0.57, 0.13, -0.74, 0.02, -0.70, 0.10]
fit_slope = [0.276, 0.222, 0.16, 0.1445, 0.04, 0.025]
fit_xrange = [(-10.0, 6.14), (-7.52, 7.92), (-13.91, 15.68), (-20, 20), (-20, 12.6), (-20, 20)]

stats = [
    r"$R^2$ = 0.09   $R$ = 0.3   $p$ < 0.001",
    r"$R^2$ = 0.07   $R$ = 0.26   $p$ < 0.001",
    r"$R^2$ = 0.12   $R$ = 0.35   $p$ < 0.001",
    r"$R^2$ = 0.11   $R$ = 0.34   $p$ < 0.001",
    r"$R^2$ = 0.01   $R$ = 0.08   $p$ = 0.185",
    r"$R^2$ = 0   $R$ = 0.06   $p$ = 0.352",
]

measures = ["total body water (TBW)", "adipose tissue mass (ATM)", "lean tissue mass (LTM)"]
units = ["L", "kg", "kg"]
arms = ["empagliflozin", "placebo"]

section_titles = ["Total Body Water (TBW), L", "Adipose Tissue Mass (ATM), kg", "Lean Tissue Mass (LTM), kg"]
section_line1 = [
    "2-month adjusted mean (SE): empagliflozin 38.2 (0.2); placebo 39.1 (0.2);",
    "2-month adjusted mean (SE): empagliflozin 49.2 (0.4); placebo 49.5 (0.4);",
    "2-month adjusted mean (SE): empagliflozin 38.0 (0.3); placebo 38.7 (0.3);",
]
section_line2 = [
    "between-group difference (95% CI) -0.9 (-1.3, -0.5) L",
    "between-group difference (95% CI) -0.3 (-1.4, 0.9) kg",
    "between-group difference (95% CI) -0.7 (-1.5, 0.1) kg",
]

panels = [tbw_empa, tbw_plac, atm_empa, atm_plac, ltm_empa, ltm_plac]

fig = plt.figure(figsize=(W / 100, H / 100), dpi=100)


def fx(px):
    return px / W


def fy(py):
    return 1 - py / H


# layout in pixels
col_left = [38.9, 675.6]
col_width = [495.4, 554.7]
col_xlim = [16.46, 16.88]
row_tops = [[158.0, 687.2, 1223.0], [159.3, 688.5, 1225.4]]
row_bottoms = [[512.1, 1041.3, 1577.0], [509.9, 1039.1, 1577.4]]
xlabel_y = [532.3, 1061.5, 1597.8]
xlabel_x = [286.6, 953.0]
ylabel_x = [16.4, 658.2]
title_y = [64.0, 586.0, 1120.3]

fig.text(fx(266), fy(30.0), "EMPAGLIFLOZIN", fontsize=21, fontweight='bold', ha='center', va='center')
fig.text(fx(927), fy(30.0), "PLACEBO", fontsize=21, fontweight='bold', ha='center', va='center')

for r in range(3):
    ty = title_y[r]
    fig.text(fx(580), fy(ty), section_titles[r], fontsize=21, fontweight='bold', ha='center', va='center')
    fig.text(fx(580), fy(ty + 33.8), section_line1[r], fontsize=21, ha='center', va='center')
    fig.text(fx(580), fy(ty + 67.6), section_line2[r], fontsize=21, ha='center', va='center')

    for c in range(2):
        i = r * 2 + c
        top, bot = row_tops[c][r], row_bottoms[c][r]
        ax = fig.add_axes([fx(col_left[c]), fy(bot), col_width[c] / W, (bot - top) / H])
        pts = np.array(panels[i])
        ax.scatter(pts[:, 0], pts[:, 1], s=16, color='black', linewidths=0, zorder=3)

        xs = np.array(fit_xrange[i])
        ax.plot(xs, fit_intercept[i] + fit_slope[i] * xs, color='black', lw=1.0, zorder=4)

        ax.set_xlim(-col_xlim[c], col_xlim[c])
        ax.set_ylim(-10.8, 6.8)
        ax.set_xticks([-10, 0, 10])
        ax.set_yticks([-10, -5, 0, 5])
        ax.tick_params(labelsize=5.3, labelcolor='#4d4d4d', color='#333333', length=2, width=0.5, pad=2)
        for sp in ax.spines.values():
            sp.set_color('#333333')
            sp.set_linewidth(0.8)

        ax.text(-14.85, 5, stats[i], fontsize=7, color='#222222', ha='left', va='center')

        fig.text(fx(xlabel_x[c]), fy(xlabel_y[r]),
                 f"Change in {measures[r]} at 2 months in those allocated {arms[c]} ({units[r]})",
                 fontsize=7.05, color='#222222', ha='center', va='center')
        fig.text(fx(ylabel_x[c]), fy((top + bot) / 2),
                 f"Change in weight at 2 months in those allocated {arms[c]} (kg)",
                 fontsize=7.05, color='#222222', ha='center', va='center', rotation=90)

fig.savefig("out.png", dpi=100)
